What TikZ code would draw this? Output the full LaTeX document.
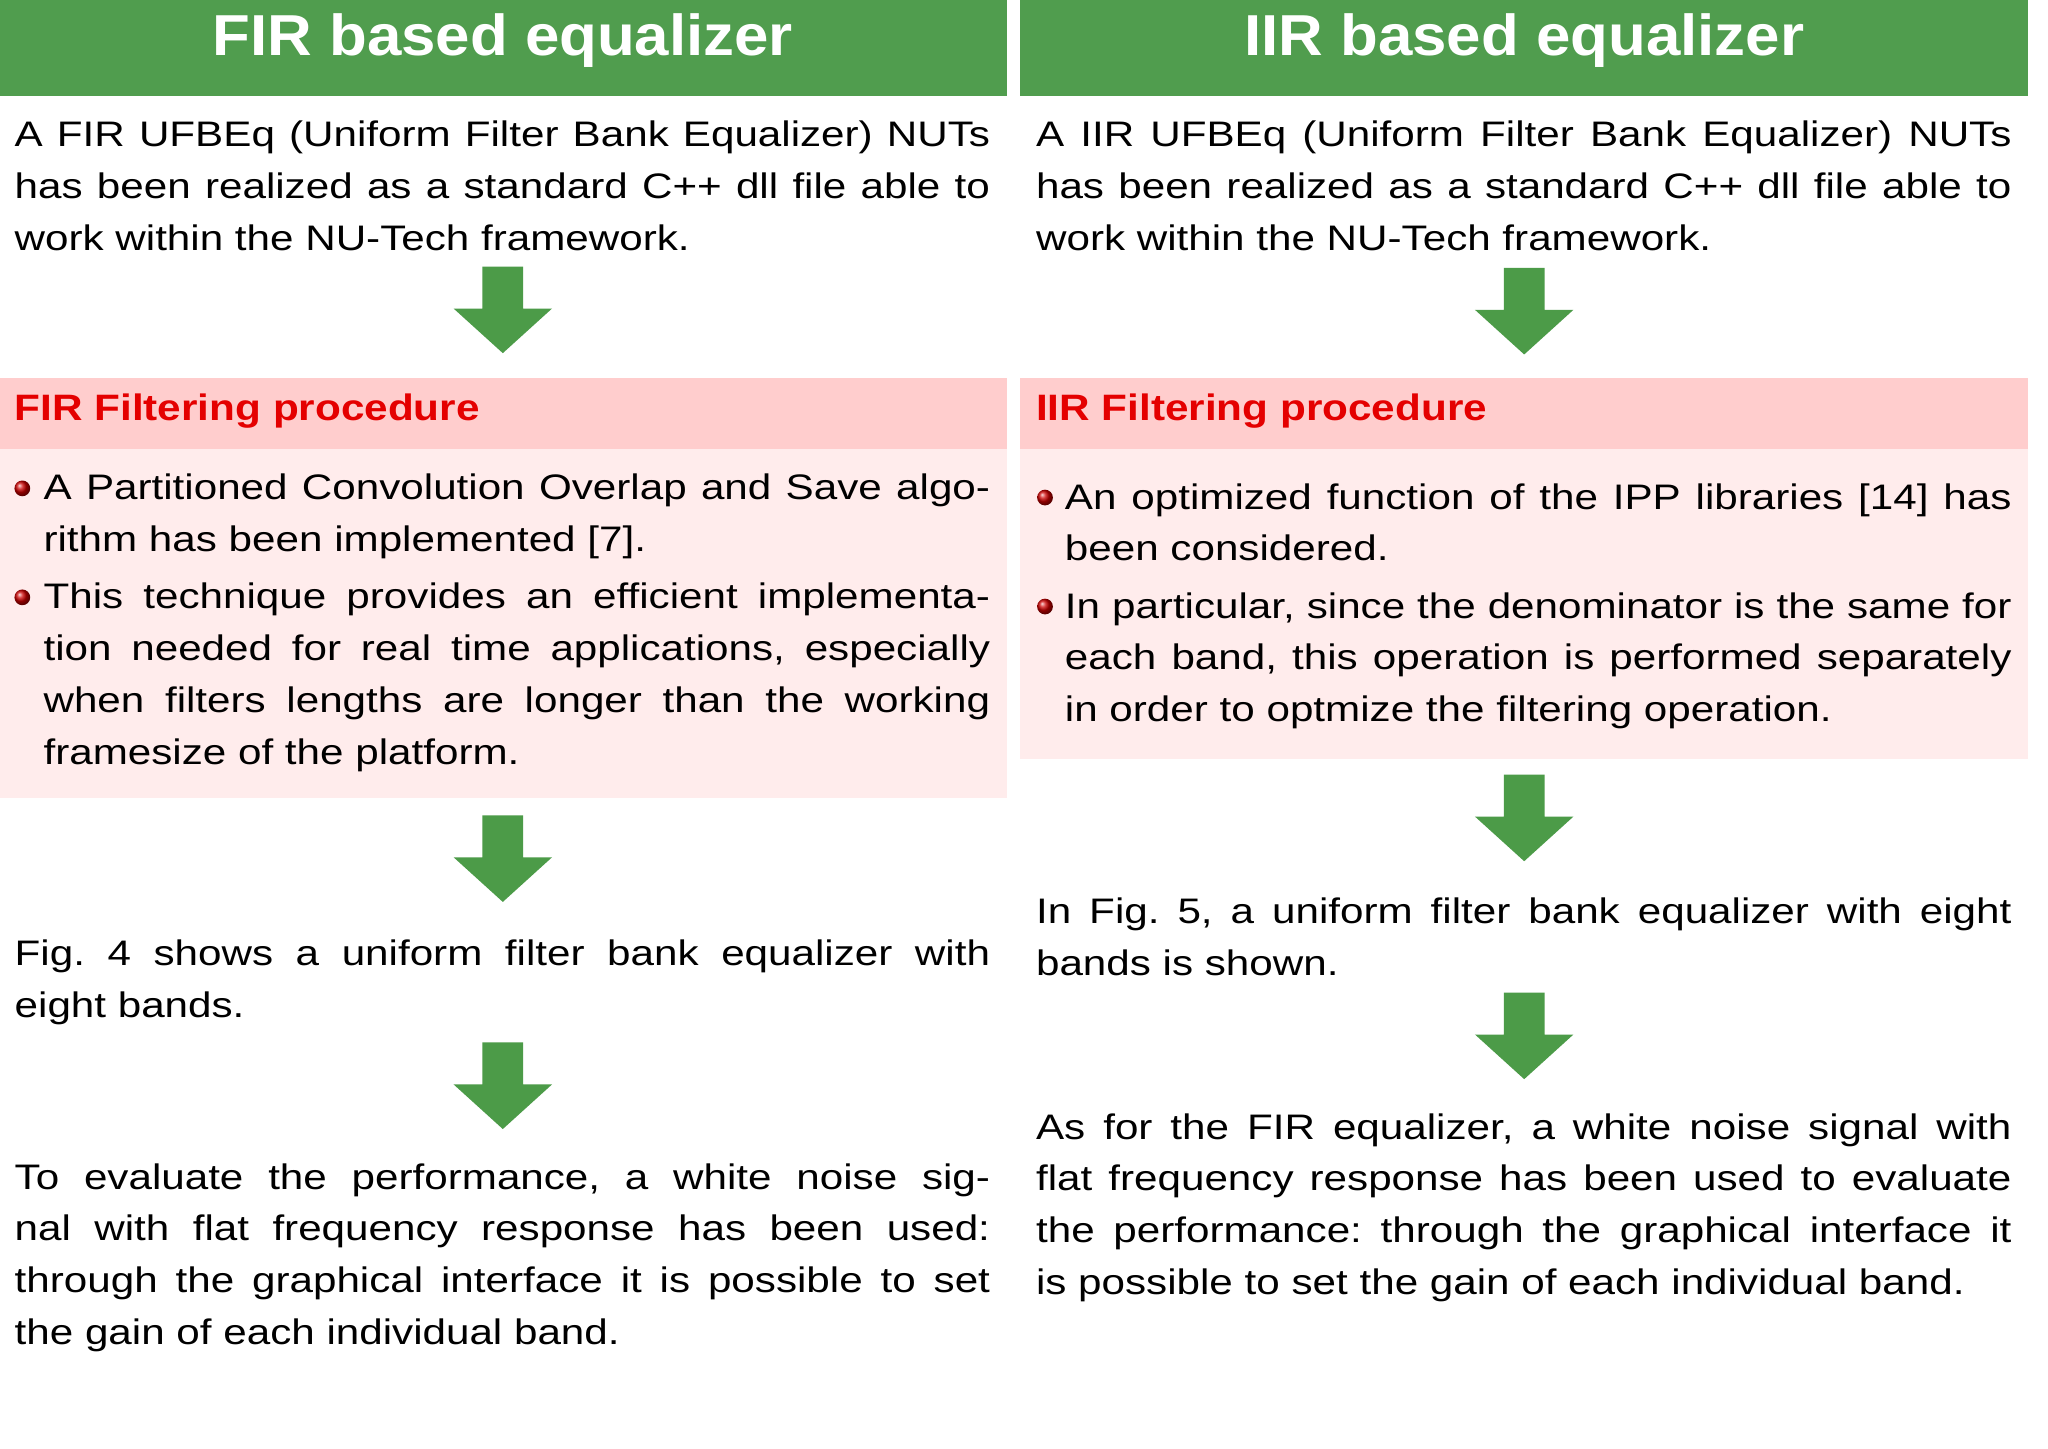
\documentclass[tikz,border=0pt]{standalone}
\usepackage{fontspec}
\setmainfont{Liberation Sans}[FakeStretch=1.19]
\newfontfamily\titlefont{Liberation Sans}[FakeStretch=1.07]
\newfontfamily\subfont{Liberation Sans}[FakeStretch=1.15]
\usetikzlibrary{shadings}
\definecolor{hgreen}{RGB}{80,157,78}
\definecolor{agreen}{RGB}{76,155,72}
\definecolor{pinkh}{RGB}{255,205,205}
\definecolor{pinkl}{RGB}{255,236,236}
\definecolor{redt}{RGB}{228,0,0}
\newcommand{\mytxt}{\fontsize{27}{39.4}\selectfont\frenchspacing}
\tikzset{
  para/.style={anchor=north west,inner sep=0pt,text width=743pt,align=justify,font=\mytxt},
  bpara/.style={anchor=north west,inner sep=0pt,text width=721pt,align=justify,font=\mytxt},
  title/.style={text=white,font=\titlefont\fontsize{44}{50}\selectfont\bfseries},
  sub/.style={anchor=west,text=redt,inner sep=0pt,font=\subfont\fontsize{28}{32}\selectfont\bfseries},
  ballb/.style={ball color=red!80!black,shading=ball,circle,minimum size=12pt,inner sep=0pt}
}
\newcommand{\garrow}[2]{\fill[agreen] (#1-15.5,-#2) -- (#1+15.5,-#2) -- (#1+15.5,-#2-32) -- (#1+37.5,-#2-32) -- (#1,-#2-66) -- (#1-37.5,-#2-32) -- (#1-15.5,-#2-32) -- cycle;}
\begin{document}
\begin{tikzpicture}[x=1pt,y=1pt]
\useasboundingbox (0,0) rectangle (1560,-1103);
\fill[white] (0,0) rectangle (1560,-1103);
% headers
\fill[hgreen] (0,0) rectangle (767,-73);
\fill[hgreen] (777,0) rectangle (1545,-73);
\node[title] (t1) at (383,-31) {FIR based equalizer};
\node[title] (t2) at (1161,-31) {IIR based equalizer};
% pink boxes
\fill[pinkl] (0,-342) rectangle (767,-608);
\fill[pinkh] (0,-288) rectangle (767,-342);
\fill[pinkl] (777,-342) rectangle (1545,-578);
\fill[pinkh] (777,-288) rectangle (1545,-342);
\node[sub] (s1) at (11,-313) {FIR Filtering procedure};
\node[sub] (s2) at (789,-313) {IIR Filtering procedure};
% arrows
\garrow{383}{203}
\garrow{383}{621}
\garrow{383}{794}
\garrow{1161}{204}
\garrow{1161}{590}
\garrow{1161}{756}
% left column
\node[para] (l1) at (11,-92) {A FIR UFBEq (Uniform Filter Bank Equalizer) NUTs\linebreak has been realized as a standard C++ dll file able to\linebreak work within the NU-Tech framework.};
\node[ballb] (lb1) at (17,-372) {};
\node[bpara] (lb1t) at (33,-361) {A Partitioned Convolution Overlap and Save algo-\linebreak rithm has been implemented [7].};
\node[ballb] (lb2) at (17,-455) {};
\node[bpara] (lb2t) at (33,-444) {This technique provides an efficient implementa-\linebreak tion needed for real time applications, especially\linebreak when filters lengths are longer than the working\linebreak framesize of the platform.};
\node[para] (l2) at (11,-716) {Fig. 4 shows a uniform filter bank equalizer with\linebreak eight bands.};
\node[para] (l3) at (11,-886) {To evaluate the performance, a white noise sig-\linebreak nal with flat frequency response has been used:\linebreak through the graphical interface it is possible to set\linebreak the gain of each individual band.};
% right column
\node[para] (r1) at (789,-92) {A IIR UFBEq (Uniform Filter Bank Equalizer) NUTs\linebreak has been realized as a standard C++ dll file able to\linebreak work within the NU-Tech framework.};
\node[ballb] (rb1) at (796,-379) {};
\node[bpara] (rb1t) at (811,-368) {An optimized function of the IPP libraries [14] has\linebreak been considered.};
\node[ballb] (rb2) at (796,-462) {};
\node[bpara] (rb2t) at (811,-451) {In particular, since the denominator is the same for\linebreak each band, this operation is performed separately\linebreak in order to optmize the filtering operation.};
\node[para] (r2) at (789,-684) {In Fig. 5, a uniform filter bank equalizer with eight\linebreak bands is shown.};
\node[para] (r3) at (789,-848) {As for the FIR equalizer, a white noise signal with\linebreak flat frequency response has been used to evaluate\linebreak the performance: through the graphical interface it\linebreak is possible to set the gain of each individual band.};
\end{tikzpicture}
\end{document}
